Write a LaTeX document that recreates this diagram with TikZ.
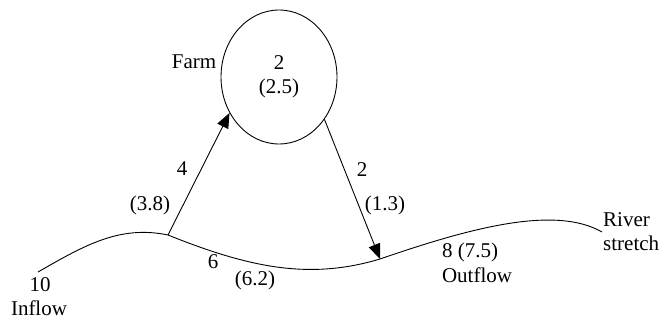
\documentclass[tikz,border=0pt]{standalone}
\usepackage{fontspec}
\setmainfont{Liberation Serif}
\usepackage{tikz}
\usetikzlibrary{arrows.meta,shapes.geometric}

\begin{document}
\begin{tikzpicture}[x=1pt, y=-1pt,
		lbl/.style={font=\fontsize{21}{24}\selectfont, inner sep=0pt},
		flow/.style={line width=0.9pt, -{Triangle[length=15pt,width=12pt]}}]
	\useasboundingbox (0,0) rectangle (661,320);
	\node[lbl, draw, line width=0.9pt, ellipse, minimum width=116pt, minimum height=134pt,
	      align=center] (farm) at (279,77) {2\\(2.5)};
	\node[lbl] (farmlbl) at (194,62) {Farm};
	\coordinate (in) at (38,272);
	\coordinate (up) at (168,235);
	\coordinate (down) at (380,259);
	\coordinate (rs) at (602,232);
	\draw[line width=0.9pt] (in) .. controls (85,245) and (120,225) .. (up)
		.. controls (250,268) and (310,280) .. (down)
		.. controls (470,228) and (555,205) .. (rs);
	\draw[flow] (up) -- (farm.216);
	\draw[flow] (farm.317) -- (down);
	\foreach \p/\t in {{182,169}/4, {150,205}/(3.8), {362,170}/2, {385,205}/(1.3),
			{40,285}/10, {39,308}/Inflow, {213,262}/6, {255,280}/(6.2),
			{470,252}/8 (7.5), {477,275}/Outflow}
		\node[lbl] at (\p) {\t};
	\node[lbl, anchor=west] (river) at (603,220) {River};
	\node[lbl, anchor=west] (stretch) at (603,243) {stretch};
\end{tikzpicture}
\end{document}
